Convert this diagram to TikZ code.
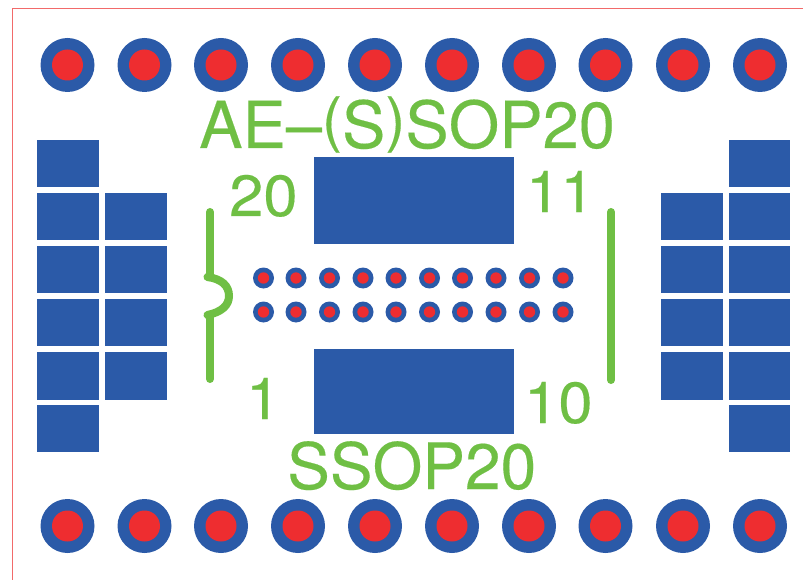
\documentclass[tikz,border=0pt]{standalone}
\usepackage{fontspec}
\setmainfont[FakeBold=0.25]{TeX Gyre Heros}
\newfontfamily\numfont[FakeStretch=1.06,FakeBold=0.25]{TeX Gyre Heros}
\definecolor{padblue}{HTML}{2B5AA8}
\definecolor{holered}{HTML}{EE2D30}
\definecolor{silk}{HTML}{6FBF44}
\definecolor{edgered}{HTML}{F26A6A}
\tikzset{
  padrect/.style={fill=padblue,draw=none},
  silkline/.style={draw=silk,line width=8pt,line cap=round},
  silktext/.style={text=silk,inner sep=0pt,anchor=base west},
  bigtext/.style={silktext,font=\fontsize{65}{65}\selectfont},
  ssoptext/.style={silktext,font=\fontsize{64}{64}\selectfont},
  numtext/.style={silktext,font=\numfont\fontsize{58}{58}\selectfont},
}
\newcommand{\bigpad}[2]{\fill[padblue] (#1,#2) circle (27); \fill[holered] (#1,#2) circle (15.5);}
\newcommand{\smallpad}[2]{\fill[padblue] (#1,#2) circle (10.5); \fill[holered] (#1,#2) circle (5.7);}
\newcommand{\parenup}[1]{\raisebox{8pt}{\fontsize{60}{60}\selectfont #1}}
\begin{document}
\begin{tikzpicture}[x=1pt,y=-1pt]
\useasboundingbox (0,0) rectangle (803,580);
\fill[white] (0,0) rectangle (803,580);
\draw[edgered,line width=1.3pt] (803,8.5) -- (12.5,8.5) -- (12.5,580);
\foreach \x in {67.5,144.5,221,298,375,452,529,605.5,683,760}{\bigpad{\x}{65}\bigpad{\x}{526}}
\foreach \x in {263.5,296,329.5,363,396,429.5,462.5,496,529.5,563}{\smallpad{\x}{278}\smallpad{\x}{312}}
% left and right pad columns
\foreach \a/\b in {140/187,193/240,246/293,298.5/346,351.5/399.5,404.5/452}{
  \fill[padrect] (37,\a) rectangle (99,\b);
  \fill[padrect] (729,\a) rectangle (790,\b);}
\foreach \a/\b in {193/240,246/293,298.5/346,351.5/399.5}{
  \fill[padrect] (105,\a) rectangle (167,\b);
  \fill[padrect] (661,\a) rectangle (722.5,\b);}
\fill[padrect] (314,157) rectangle (514,243.5);
\fill[padrect] (314,348.5) rectangle (514,434);
% silk
\draw[silkline] (210,212) -- (210,277);
\draw[silkline] (210,315) -- (210,379);
\draw[silkline] (207.5,277) .. controls (222,279) and (229,286) .. (229,296) .. controls (229,305) and (222,312) .. (207.5,315);
\draw[silkline] (611,212) -- (611,380);
\node[bigtext] (t1) at (199,148) {AE–\parenup{(}S\parenup{)}SOP20};
\node[ssoptext] (t2) at (287,489) {SSOP20};
\node[numtext] (a) at (229,216) {20};
\node[numtext] (b) at (526,212) {11};
\node[numtext] (c) at (246,419) {1};
\node[numtext] (d) at (524,423) {10};
\end{tikzpicture}
\end{document}
